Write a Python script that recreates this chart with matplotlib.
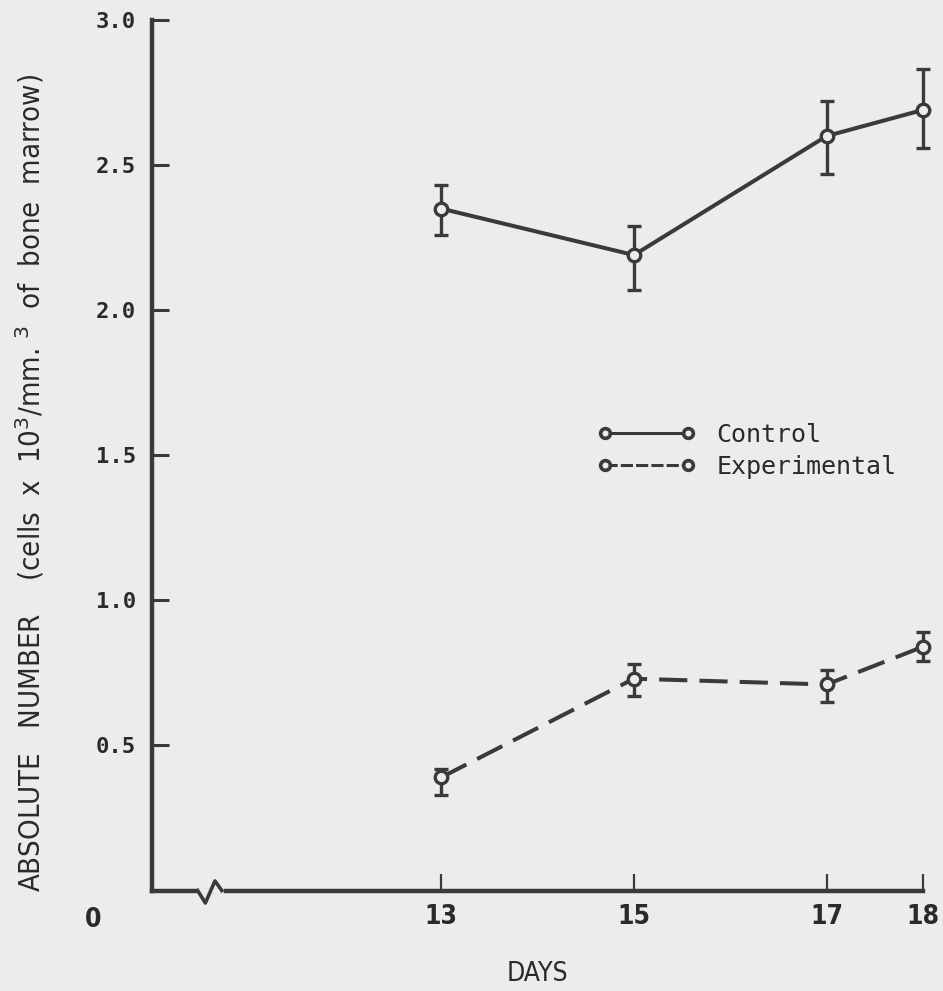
import matplotlib.pyplot as plt
from matplotlib.lines import Line2D

days = [13, 15, 17, 18]

control = [2.35, 2.19, 2.60, 2.69]
control_hi = [2.43, 2.29, 2.72, 2.83]
control_lo = [2.26, 2.07, 2.47, 2.56]

experimental = [0.39, 0.73, 0.71, 0.84]
experimental_hi = [0.42, 0.78, 0.76, 0.89]
experimental_lo = [0.33, 0.67, 0.65, 0.79]

y_ticks = [0.5, 1.0, 1.5, 2.0, 2.5, 3.0]
x_ticks = [13, 15, 17, 18]

paper = "#ececec"
ink = "#3a3a3a"
text_ink = "#2a2a2a"
cond = {"family": "DejaVu Sans", "stretch": "condensed"}

fig = plt.figure(figsize=(9.43, 9.91), dpi=100, facecolor=paper)
ax = fig.add_axes([0.1616, 0.1014, 0.8170, 0.8784], facecolor=paper)


def draw_series(vals, hi, lo, style):
    err = [[v - l for v, l in zip(vals, lo)], [h - v for v, h in zip(vals, hi)]]
    bars = ax.errorbar(days, vals, yerr=err, fmt="none", ecolor=ink,
                       elinewidth=2.4, capsize=5, capthick=2.4, zorder=2)
    for part in bars.lines[1] + bars.lines[2]:
        part.set_clip_on(False)
    ax.plot(days, vals, color=ink, lw=2.9, linestyle=style, zorder=3,
            marker="o", ms=9, mfc=paper, mec=ink, mew=2.4, clip_on=False)


draw_series(control, control_hi, control_lo, "-")
draw_series(experimental, experimental_hi, experimental_lo, (0, (7, 3)))

ax.set_xlim(10, 18)
ax.set_ylim(0, 3)

for side in ["top", "right"]:
    ax.spines[side].set_visible(False)
for side in ["left", "bottom"]:
    ax.spines[side].set_color(ink)
    ax.spines[side].set_linewidth(3.2)

ax.set_yticks(y_ticks)
ax.set_yticklabels([f"{t:.1f}" for t in y_ticks],
                   family="DejaVu Sans Mono", weight="bold", fontsize=16)
ax.set_xticks(x_ticks)
ax.set_xticklabels([str(t) for t in x_ticks], fontsize=19, weight="bold",
                   **cond)
ax.tick_params(axis="y", direction="in", length=12, width=2.2, color=ink,
               pad=12, labelcolor=text_ink)
ax.tick_params(axis="x", direction="in", length=12, width=1.6, color=ink,
               pad=10, labelcolor=text_ink)

# axis break mark near the origin
ax.plot([10.49, 10.71], [0, 0], color=paper, lw=4, clip_on=False, zorder=3.5)
ax.plot([10.47, 10.55, 10.65, 10.72], [0, -0.043, 0.033, 0.0],
        color=ink, lw=2.6, clip_on=False, zorder=4)

fig.text(93 / 943, 1 - 920 / 991, "0", ha="center", va="center",
         fontsize=19, weight="bold", color=text_ink, **cond)

ax.set_xlabel("DAYS", fontsize=19, color=text_ink, labelpad=22, **cond)
fig.text(30 / 943, 1 - 483 / 991,
         "ABSOLUTE   NUMBER    (cells  x  10$^3$/mm. $^3$  of  bone  marrow)",
         rotation=90, ha="center", va="center", fontsize=21, color=text_ink,
         **cond)

handles = [
    Line2D([], [], color=ink, lw=2.2, linestyle="-", marker="o", ms=7,
           mfc=paper, mec=ink, mew=2.6),
    Line2D([], [], color=ink, lw=2.2, linestyle=(0, (4, 1)), marker="o", ms=7,
           mfc=paper, mec=ink, mew=2.6),
]
ax.legend(handles, ["Control", "Experimental"], numpoints=2, handlelength=3.9,
          frameon=False, loc="center left", bbox_to_anchor=(0.578, 0.505),
          prop={"family": "DejaVu Sans Mono", "size": 18},
          labelspacing=0.3, handletextpad=0.85, labelcolor=text_ink,
          borderaxespad=0, borderpad=0)

fig.savefig("out.png", dpi=100, facecolor=paper)
